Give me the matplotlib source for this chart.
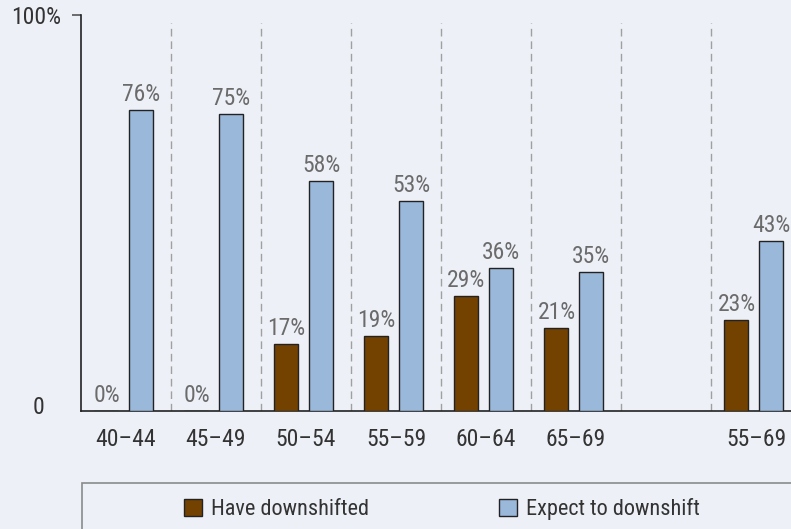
import matplotlib.pyplot as plt
from matplotlib.patches import Rectangle
from matplotlib.transforms import blended_transform_factory

plt.rcParams['font.family'] = ['Roboto Condensed', 'Arial Narrow',
                               'Liberation Sans Narrow', 'Roboto', 'DejaVu Sans']
plt.rcParams['font.stretch'] = 'condensed'

groups = ['40–44', '45–49', '50–54', '55–59', '60–64', '65–69', '55–69']
slots = [0, 1, 2, 3, 4, 5, 7]          # slot 6 is left empty
have = [0, 0, 17, 19, 29, 21, 23]
expect = [76, 75, 58, 53, 36, 35, 43]

bg = '#edf0f7'
brown = '#744200'
blue = '#9ab8d9'
fs = 17

fig = plt.figure(figsize=(7.91, 5.29), dpi=100, facecolor=bg)
ax = fig.add_axes([81 / 791, 118 / 529, 710 / 791, 396 / 529], facecolor=bg)

w = 0.267
b1 = ax.bar([s - 0.217 for s in slots], have, width=w, color=brown,
            edgecolor='#222222', linewidth=1, label='Have downshifted', zorder=3)
b2 = ax.bar([s + 0.167 for s in slots], expect, width=w, color=blue,
            edgecolor='#222222', linewidth=1, label='Expect to downshift', zorder=3)
for bars, vals in ((b1, have), (b2, expect)):
    ax.bar_label(bars, labels=[f'{v}%' for v in vals], padding=3,
                 fontsize=fs, color='#6b6b6b')

# dashed separators between the age groups
for x in [0.5, 1.5, 2.5, 3.5, 4.5, 5.5, 6.5]:
    ax.plot([x, x], [0, 98], color='#a0a0a0', lw=1,
            linestyle=(0, (5.5, 3.5)), zorder=1)

ax.set_xlim(-0.5, 7.389)
ax.set_ylim(0, 100)
ax.set_xticks(slots)
ax.set_xticklabels(groups)
ax.tick_params(axis='x', length=0, pad=12, labelsize=fs, labelcolor='#333333')
ax.set_yticks([100])
ax.set_yticklabels(['100%'])
ax.tick_params(axis='y', length=6.5, width=1.2, color='#555555', pad=8,
               labelsize=fs, labelcolor='#333333')
for lbl in ax.get_yticklabels():
    lbl.set_y(98.7)
ax.text(-0.052, 1, '0', transform=blended_transform_factory(ax.transAxes, ax.transData),
        ha='right', va='center', fontsize=fs, color='#333333')

for side in ('top', 'right'):
    ax.spines[side].set_visible(False)
for side in ('left', 'bottom'):
    ax.spines[side].set_color('#222222')
    ax.spines[side].set_linewidth(1.2)

# legend panel along the bottom
fig.patches.append(Rectangle((82 / 791, -0.05), 1.0, (529 - 483) / 529 + 0.05,
                             transform=fig.transFigure, facecolor=bg,
                             edgecolor='#8a8a8a', linewidth=1.2))
fig.legend(handles=[b1, b2], loc='center', bbox_to_anchor=(442 / 791, 20 / 529),
           ncol=2, frameon=False, fontsize=16, labelcolor='#333333',
           handlelength=0.81, handleheight=0.81, handletextpad=0.4,
           columnspacing=5.85)

fig.savefig('out.png', facecolor=bg)
